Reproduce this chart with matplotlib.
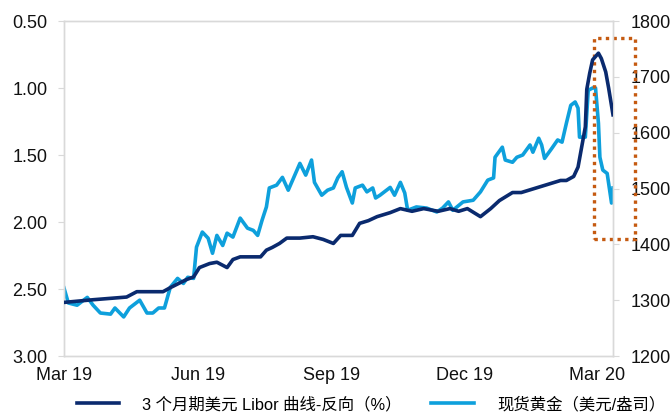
import matplotlib
matplotlib.use('Agg')
import matplotlib.pyplot as plt
import matplotlib.dates as mdates
import matplotlib.patches as mpatches
import pandas as pd

# 3个月期美元Libor（%，左轴，反向）
libor_dates = ['2019-03-08', '2019-03-28', '2019-04-20', '2019-04-27', '2019-05-15',
               '2019-05-20', '2019-05-31', '2019-06-05', '2019-06-09', '2019-06-16',
               '2019-06-21', '2019-06-28', '2019-07-02', '2019-07-07', '2019-07-21',
               '2019-07-25', '2019-07-29', '2019-08-03', '2019-08-08', '2019-08-17',
               '2019-08-26', '2019-09-02', '2019-09-09', '2019-09-14', '2019-09-22',
               '2019-09-27', '2019-10-03', '2019-10-09', '2019-10-18', '2019-10-25',
               '2019-11-02', '2019-11-10', '2019-11-20', '2019-11-28', '2019-12-04',
               '2019-12-10', '2019-12-19', '2019-12-26', '2020-01-01', '2020-01-10',
               '2020-01-16', '2020-01-22', '2020-02-03', '2020-02-12', '2020-02-16',
               '2020-02-21', '2020-02-24', '2020-02-27', '2020-02-29', '2020-03-01',
               '2020-03-03', '2020-03-05', '2020-03-09', '2020-03-11', '2020-03-14',
               '2020-03-16', '2020-03-19']
libor_vals = [2.60, 2.58, 2.56, 2.52, 2.52,
              2.49, 2.43, 2.41, 2.34, 2.31,
              2.30, 2.34, 2.28, 2.26, 2.26,
              2.21, 2.19, 2.16, 2.12, 2.12,
              2.11, 2.13, 2.16, 2.10, 2.10,
              2.01, 1.99, 1.96, 1.93, 1.90,
              1.92, 1.90, 1.92, 1.90, 1.92,
              1.90, 1.96, 1.90, 1.84, 1.78,
              1.78, 1.76, 1.72, 1.69, 1.69,
              1.66, 1.59, 1.41, 1.29, 1.01,
              0.89, 0.79, 0.74, 0.78, 0.88,
              1.00, 1.20]

# 现货黄金（美元/盎司，右轴）
gold_dates = ['2019-03-08', '2019-03-11', '2019-03-17', '2019-03-24', '2019-03-28',
              '2019-04-02', '2019-04-09', '2019-04-12', '2019-04-18', '2019-04-22',
              '2019-04-29', '2019-05-04', '2019-05-08', '2019-05-12', '2019-05-16',
              '2019-05-20', '2019-05-25', '2019-05-29', '2019-06-01', '2019-06-05',
              '2019-06-07', '2019-06-11', '2019-06-15', '2019-06-18', '2019-06-21',
              '2019-06-25', '2019-06-28', '2019-07-02', '2019-07-07', '2019-07-12',
              '2019-07-16', '2019-07-19', '2019-07-22', '2019-07-25', '2019-07-27',
              '2019-08-01', '2019-08-05', '2019-08-09', '2019-08-14', '2019-08-17',
              '2019-08-21', '2019-08-25', '2019-08-27', '2019-09-01', '2019-09-05',
              '2019-09-09', '2019-09-12', '2019-09-15', '2019-09-18', '2019-09-22',
              '2019-09-24', '2019-09-29', '2019-10-02', '2019-10-06', '2019-10-08',
              '2019-10-11', '2019-10-18', '2019-10-21', '2019-10-25', '2019-10-28',
              '2019-10-30', '2019-11-05', '2019-11-12', '2019-11-19', '2019-11-23',
              '2019-11-27', '2019-11-30', '2019-12-07', '2019-12-14', '2019-12-19',
              '2019-12-24', '2019-12-28', '2019-12-29', '2020-01-03', '2020-01-05',
              '2020-01-10', '2020-01-13', '2020-01-17', '2020-01-22', '2020-01-24',
              '2020-01-28', '2020-01-30', '2020-02-01', '2020-02-06', '2020-02-10',
              '2020-02-13', '2020-02-16', '2020-02-19', '2020-02-22', '2020-02-24',
              '2020-02-25', '2020-02-29', '2020-03-02', '2020-03-05', '2020-03-07',
              '2020-03-09', '2020-03-10', '2020-03-12', '2020-03-15', '2020-03-18',
              '2020-03-19']
gold_vals = [1322, 1295, 1291, 1305, 1291,
             1277, 1275, 1286, 1270, 1286,
             1300, 1277, 1277, 1286, 1286,
             1323, 1339, 1330, 1341, 1339,
             1395, 1422, 1411, 1384, 1416,
             1398, 1420, 1413, 1447, 1429,
             1425, 1416, 1443, 1467, 1501,
             1506, 1520, 1497, 1527, 1545,
             1524, 1551, 1511, 1488, 1497,
             1501, 1519, 1530, 1502, 1474,
             1501, 1506, 1494, 1501, 1483,
             1488, 1502, 1488, 1511, 1492,
             1461, 1467, 1465, 1458, 1465,
             1476, 1461, 1476, 1479, 1494,
             1515, 1519, 1556, 1574, 1551,
             1547, 1556, 1560, 1578, 1565,
             1590, 1578, 1554, 1572, 1587,
             1583, 1617, 1649, 1655, 1644,
             1592, 1592, 1676, 1680, 1680,
             1617, 1556, 1533, 1527, 1474,
             1501]

tick_dates = ['2019-03-08', '2019-06-08', '2019-09-08', '2019-12-08', '2020-03-08']
tick_labels = ['Mar 19', 'Jun 19', 'Sep 19', 'Dec 19', 'Mar 20']

libor_label = '3 个月期美元 Libor 曲线-反向（%）'
gold_label = '现货黄金（美元/盎司）'

# 高亮区域（日期范围与黄金价格范围）
box_start, box_end = '2020-03-06', '2020-04-03'
box_low, box_high = 1409, 1769

NAVY = '#0A2A6E'
SKY = '#0EA0DC'
GRID = '#D9D9D9'
BOX = '#C55A11'

plt.rcParams['font.family'] = ['Liberation Sans', 'Noto Sans CJK SC', 'DejaVu Sans']

fig = plt.figure(figsize=(6.72, 4.16), dpi=100)
ax = fig.add_axes([0.0952, 0.1442, 0.8170, 0.8053])
ax2 = ax.twinx()

ld = pd.to_datetime(libor_dates)
gd = pd.to_datetime(gold_dates)

l1, = ax.plot(ld, libor_vals, color=NAVY, lw=2.6, zorder=3)
l2, = ax2.plot(gd, gold_vals, color=SKY, lw=2.6, zorder=2)
ax.set_zorder(ax2.get_zorder() + 1)
ax.patch.set_visible(False)

ax.set_ylim(3.0, 0.5)
ax.set_yticks([0.5, 1.0, 1.5, 2.0, 2.5, 3.0])
ax.set_yticklabels(['%.2f' % v for v in [0.5, 1.0, 1.5, 2.0, 2.5, 3.0]])
ax2.set_ylim(1200, 1800)
ax2.set_yticks(range(1200, 1801, 100))

ax.set_xlim(pd.Timestamp('2019-03-08'), pd.Timestamp('2020-03-19'))
ax.set_xticks(pd.to_datetime(tick_dates))
ax.set_xticklabels(tick_labels)

for a in (ax, ax2):
    for s in a.spines.values():
        s.set_color(GRID)
        s.set_linewidth(1.0)
ax.tick_params(axis='y', length=4, color=GRID, labelsize=13, pad=8, labelcolor='#111111')
ax2.tick_params(axis='y', length=4, color=GRID, labelsize=13, pad=9, labelcolor='#111111')
ax.tick_params(axis='x', length=0, labelsize=13, pad=8, labelcolor='#111111')

rect = mpatches.Rectangle((mdates.date2num(pd.Timestamp(box_start)), box_low),
                          mdates.date2num(pd.Timestamp(box_end)) - mdates.date2num(pd.Timestamp(box_start)),
                          box_high - box_low,
                          fill=False, edgecolor=BOX, lw=2.4, linestyle=(0, (1, 1.3)),
                          clip_on=False, zorder=5)
ax2.add_patch(rect)

fig.legend([l1, l2], [libor_label, gold_label], loc='center', bbox_to_anchor=(0.552, 0.028),
           ncol=2, frameon=False, fontsize=11.8, handlelength=2.6, handletextpad=1.4,
           columnspacing=1.8)

plt.savefig('out.png', dpi=100, facecolor='white')
plt.close()
